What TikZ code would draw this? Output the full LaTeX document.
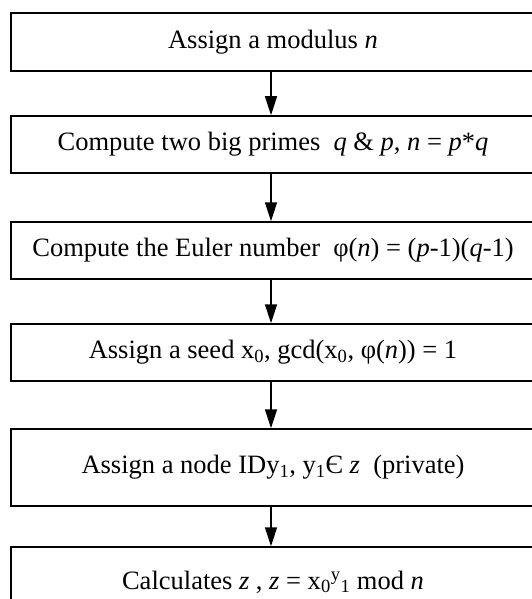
\documentclass[tikz,border=0pt]{standalone}
\usepackage{fontspec}
\setmainfont{Liberation Serif}
\usetikzlibrary{arrows.meta}
\tikzset{
  stepbox/.style={draw=black, line width=1.5pt, minimum width=524pt, inner sep=0pt,
    font=\fontsize{26.5}{30}\selectfont, anchor=center},
  flowarr/.style={line width=1.5pt, -{Triangle[length=19pt,width=12pt]}}
}
\begin{document}
\begin{tikzpicture}[x=1pt,y=-1pt]
\useasboundingbox (0,0) rectangle (532,599);
\clip (0,0) rectangle (532,599);
\fill[white] (0,0) rectangle (532,599);
\coordinate (ax) at (271,0);
\node[stepbox, minimum height=58pt] (b1) at (273,42) {Assign a modulus \textit{n}};
\node[stepbox, minimum height=57pt] (b2) at (273,144.5) {Compute two big primes\ \ \textit{q} \& \textit{p}, \textit{n} = \textit{p}*\textit{q}};
\node[stepbox, minimum height=57pt] (b3) at (273,250.5) {Compute the Euler number\ \ φ(\textit{n}) = (\textit{p}-1)(\textit{q}-1)};
\node[stepbox, minimum height=57pt] (b4) at (273,352.5) {Assign a seed x\textsubscript{0}, gcd(x\textsubscript{0}, φ(\textit{n})) = 1};
\node[stepbox, minimum height=77pt] (b5) at (273,467.5) {Assign a node IDy\textsubscript{1}, y\textsubscript{1}Є \textit{z}\ \ (private)};
\node[stepbox, minimum height=70pt] (b6) at (273,582) {Calculates \textit{z} , \textit{z} = x\textsubscript{0}\textsuperscript{y}\textsubscript{1} mod \textit{n}};
\draw[flowarr] (b1.south -| ax) -- (b2.north -| ax);
\draw[flowarr] (b2.south -| ax) -- (b3.north -| ax);
\draw[flowarr] (b3.south -| ax) -- (b4.north -| ax);
\draw[flowarr] (b4.south -| ax) -- (b5.north -| ax);
\draw[flowarr] (b5.south -| ax) -- (b6.north -| ax);
\end{tikzpicture}
\end{document}
